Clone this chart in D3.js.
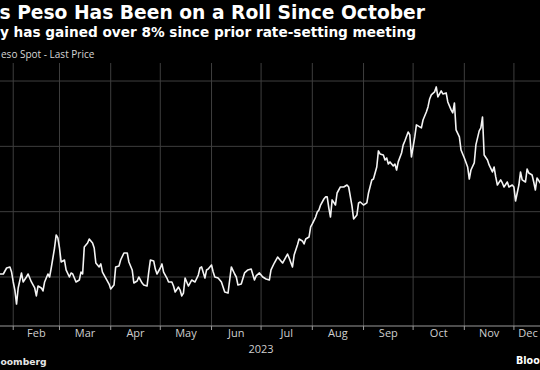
<!DOCTYPE html>
<html>
<head>
<meta charset="utf-8">
<script src="https://cdn.jsdelivr.net/npm/d3@7"></script>
<style>
  body { margin: 0; background: #000; }
  svg { display: block; }
</style>
</head>
<body>
<svg></svg>
<script>
// the reference is a crop of a wider chart: texts hold only the part that shows
const TITLE = "s Peso Has Been on a Roll Since October";
const SUBTITLE = "y has gained over 8% since prior rate-setting meeting";
const LEGEND = "eso Spot - Last Price";
const SOURCE = "oomberg";
const LOGO = "Bloo";
const YEAR_LABEL = "2023";

// USD-CLP spot
const spotDates = [
   "01-20","01-24","01-26","01-28","01-30","01-31",
   "02-01","02-02","02-03","02-04","02-06","02-07","02-09","02-10","02-12","02-14","02-15","02-16","02-18","02-19","02-20","02-22","02-23","02-24","02-26","02-27","02-28",
   "03-01","03-02","03-04","03-05","03-07","03-08","03-09","03-10","03-11","03-13","03-14","03-15","03-16","03-18","03-19","03-21","03-22","03-23","03-25","03-26","03-27","03-29","03-31",
   "04-01","04-03","04-04","04-06","04-07","04-09","04-11","04-12","04-14","04-15","04-17","04-18","04-20","04-21","04-23","04-24","04-25","04-27","04-28","04-29",
   "05-01","05-02","05-03","05-05","05-06","05-08","05-09","05-10","05-12","05-13","05-14","05-15","05-16","05-18","05-19","05-20","05-22","05-24","05-25","05-26","05-28","05-29","05-30",
   "06-01","06-02","06-03","06-05","06-07","06-09","06-11","06-13","06-15","06-16","06-17","06-19","06-21","06-23","06-25","06-27","06-28","06-30",
   "07-02","07-04","07-06","07-07","07-09","07-11","07-12","07-14","07-15","07-17","07-18","07-20","07-21","07-23","07-24","07-26","07-27","07-28","07-30","07-31",
   "08-01","08-03","08-04","08-05","08-06","08-08","08-09","08-10","08-11","08-12","08-13","08-15","08-16","08-18","08-20","08-22","08-23","08-25","08-26","08-28","08-29","08-30",
   "09-01","09-03","09-04","09-06","09-07","09-09","09-10","09-11","09-13","09-14","09-15","09-16","09-17","09-19","09-20","09-21","09-22","09-24","09-25","09-26","09-28","09-29","09-30",
   "10-02","10-03","10-05","10-06","10-07","10-09","10-10","10-11","10-12","10-14","10-15","10-16","10-18","10-19","10-21","10-22","10-24","10-25","10-26","10-27","10-29","10-30",
   "11-01","11-03","11-04","11-05","11-07","11-08","11-10","11-11","11-12","11-13","11-15","11-16","11-18","11-19","11-20","11-21","11-23","11-24","11-25","11-27","11-28","11-30",
   "12-01","12-02","12-04","12-05","12-06","12-08","12-09","12-10","12-12","12-13","12-14","12-15","12-17","12-18"
];
const spotPrices = [
   800.5,802.3,802.3,806.9,807.7,803.8,
   796.2,790.0,779.3,791.6,803.1,796.2,800.0,802.3,796.2,791.6,785.5,793.1,791.6,789.3,796.2,802.3,800.0,806.9,822.2,832.2,829.9,
   822.2,811.5,813.0,805.4,800.0,803.1,802.3,799.2,796.2,797.7,803.8,802.3,823.0,826.0,829.1,826.0,822.2,810.7,807.7,810.0,803.8,799.2,794.6,
   790.8,793.9,807.7,808.4,813.0,818.4,818.4,811.5,805.4,795.4,796.9,800.0,795.4,793.9,793.1,803.8,813.0,812.3,806.1,802.3,
   806.9,810.0,803.8,799.2,796.2,796.2,793.1,788.5,792.3,790.0,785.5,787.7,799.2,793.1,795.4,797.7,796.2,801.5,806.9,807.7,799.2,805.4,806.1,
   809.2,803.8,800.0,799.2,796.2,788.5,787.7,807.7,802.3,800.0,793.9,794.6,803.1,805.4,806.1,797.7,800.8,803.1,
   800.0,798.5,797.7,805.4,810.7,815.3,813.8,810.7,813.0,817.6,814.5,807.7,816.8,824.5,829.1,827.6,825.3,829.1,830.6,838.3,
   840.6,845.9,849.8,851.3,855.1,859.7,861.3,861.3,852.8,845.9,859.0,855.1,864.3,868.9,868.9,870.4,868.9,854.4,844.4,847.5,856.7,857.4,
   855.1,856.7,864.3,874.3,875.0,884.2,896.5,894.2,893.4,889.6,891.1,886.5,888.1,885.0,886.5,881.9,888.1,894.9,901.1,904.1,911.0,908.7,891.9,
   907.2,916.4,914.9,914.1,920.2,926.3,930.2,936.3,939.4,941.7,945.5,937.8,942.4,940.1,940.9,934.0,927.9,925.6,933.2,912.6,907.2,897.2,
   891.1,884.2,875.0,881.9,887.3,901.1,911.8,914.1,922.5,893.4,889.6,885.8,880.4,884.2,876.6,870.4,874.3,872.0,868.9,872.7,868.9,870.4,
   868.9,858.2,870.4,880.4,874.3,872.7,882.7,879.6,878.1,872.7,866.6,875.8,872.0,874.5
];
const yTicks = [800, 850, 900, 950];

const width = 540;
const height = 370;
const plotTop = 63;
const plotBottom = 326;
const startDate = new Date(2023, 0, 1);
const endDate = new Date(2023, 11, 18);

const parseDay = d3.timeParse("%Y-%m-%d");
const data = spotDates.map((d, i) => ({ date: parseDay(`2023-${d}`), price: spotPrices[i] }));

const svg = d3.select("svg").attr("width", width).attr("height", height);
svg.append("rect").attr("width", width).attr("height", height).attr("fill", "#000");

// scale starts left of the frame (crop)
const x = d3.scaleTime().domain([startDate, endDate]).range([-38, 542]);
const y = d3.scaleLinear().domain([762.5, 963.8]).range([plotBottom, plotTop]);

const months = d3.timeMonth.range(startDate, endDate);

// grid
svg.append("g")
   .selectAll("line")
   .data(yTicks)
   .enter()
   .append("line")
   .attr("x1", 0)
   .attr("x2", width)
   .attr("y1", d => y(d))
   .attr("y2", d => y(d))
   .attr("stroke", "#3e3e3e")
   .attr("stroke-width", 1);

svg.append("g")
   .selectAll("line")
   .data(months)
   .enter()
   .append("line")
   .attr("x1", d => x(d))
   .attr("x2", d => x(d))
   .attr("y1", plotTop)
   .attr("y2", plotBottom)
   .attr("stroke", "#3e3e3e")
   .attr("stroke-width", 1);

// axis line + ticks
svg.append("line")
   .attr("x1", 0)
   .attr("x2", width)
   .attr("y1", plotBottom)
   .attr("y2", plotBottom)
   .attr("stroke", "#9a9a9a")
   .attr("stroke-width", 1);

svg.append("g")
   .selectAll("line")
   .data(months)
   .enter()
   .append("line")
   .attr("x1", d => x(d))
   .attr("x2", d => x(d))
   .attr("y1", plotBottom)
   .attr("y2", plotBottom + 4)
   .attr("stroke", "#9a9a9a");

// month labels sit in the middle of each month (January falls outside the frame)
svg.append("g")
   .selectAll("text")
   .data(months.filter(d => x(d) >= 0))
   .enter()
   .append("text")
   .attr("x", d => (x(d) + x(d3.min([d3.timeMonth.offset(d, 1), endDate]))) / 2)
   .attr("y", 337)
   .attr("text-anchor", "middle")
   .attr("fill", "#cfcfcf")
   .attr("font-family", "Open Sans")
   .attr("font-size", 11)
   .text(d => d3.timeFormat("%b")(d));

svg.append("text")
   .attr("x", x(new Date(2023, 6, 1)))
   .attr("y", 353)
   .attr("text-anchor", "middle")
   .attr("fill", "#cfcfcf")
   .attr("font-family", "Open Sans")
   .attr("font-size", 11)
   .text(YEAR_LABEL);

// price line
const line = d3.line()
   .x(d => x(d.date))
   .y(d => y(d.price));

svg.append("path")
   .datum(data)
   .attr("d", line)
   .attr("fill", "none")
   .attr("stroke", "#f4f4f4")
   .attr("stroke-width", 1.6)
   .attr("stroke-linejoin", "round");

// titles
svg.append("text")
   .attr("x", 425)
   .attr("y", 19)
   .attr("text-anchor", "end")
   .attr("fill", "#fff")
   .attr("font-family", "DejaVu Sans")
   .attr("font-weight", "bold")
   .attr("font-size", 18.7)
   .text(TITLE);

svg.append("text")
   .attr("x", 416)
   .attr("y", 37)
   .attr("text-anchor", "end")
   .attr("fill", "#fff")
   .attr("font-family", "DejaVu Sans")
   .attr("font-weight", "bold")
   .attr("font-size", 13.65)
   .text(SUBTITLE);

svg.append("text")
   .attr("x", 1)
   .attr("y", 58)
   .attr("fill", "#d6d6d6")
   .attr("font-family", "Open Sans")
   .attr("font-size", 10)
   .text(LEGEND);

// footer
svg.append("text")
   .attr("x", 0.5)
   .attr("y", 365)
   .attr("fill", "#e6e6e6")
   .attr("font-family", "DejaVu Sans")
   .attr("font-weight", "bold")
   .attr("font-size", 9.2)
   .text(SOURCE);

svg.append("text")
   .attr("x", 516)
   .attr("y", 364)
   .attr("fill", "#fff")
   .attr("font-family", "DejaVu Sans")
   .attr("font-weight", "bold")
   .attr("font-size", 9.6)
   .text(LOGO);
</script>
</body>
</html>
